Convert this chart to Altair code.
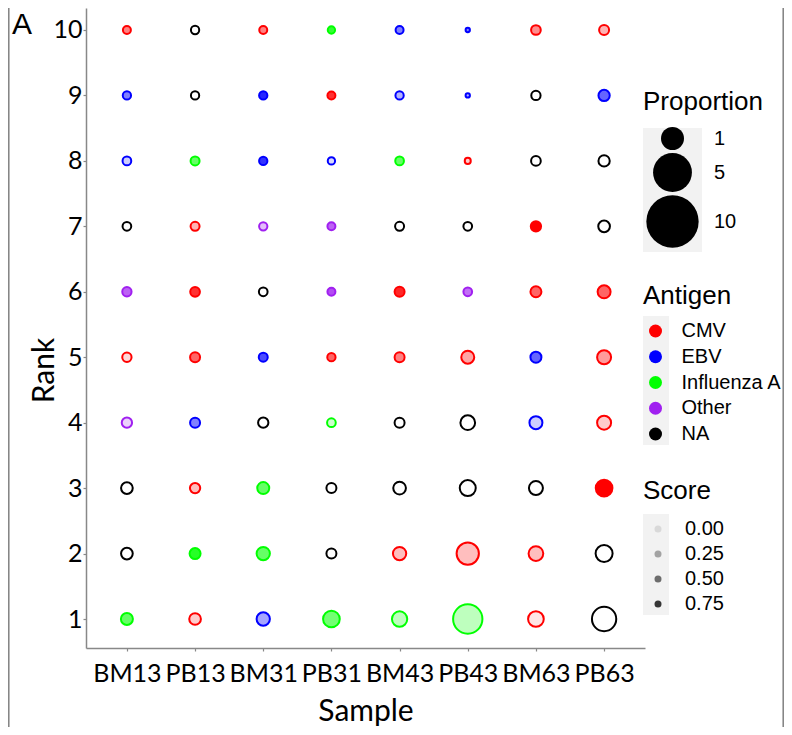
import altair as alt
import pandas as pd

samples = ["BM13", "PB13", "BM31", "PB31", "BM43", "PB43", "BM63", "PB63"]
ranks = [1, 2, 3, 4, 5, 6, 7, 8, 9, 10]
antigens = ["CMV", "EBV", "Influenza A", "Other", "NA"]
antigen_colors = ["#FF0000", "#0000FF", "#00FF00", "#A020F0", "#000000"]

C, E, F, O, N = "CMV", "EBV", "Influenza A", "Other", "NA"

# antigen per rank (1..10) for each sample
antigen_BM13 = [F, N, N, O, C, O, N, E, E, C]
antigen_PB13 = [C, F, C, E, C, C, C, F, N, N]
antigen_BM31 = [E, F, F, N, E, N, O, E, E, C]
antigen_PB31 = [F, N, N, F, C, O, O, E, C, F]
antigen_BM43 = [F, C, N, N, C, C, N, F, E, E]
antigen_PB43 = [F, C, N, N, C, O, N, C, E, E]
antigen_BM63 = [C, C, N, E, E, C, C, N, N, C]
antigen_PB63 = [N, N, C, C, C, C, N, N, E, C]

# proportion per rank (1..10)
prop_BM13 = [2.26, 2.15, 2.15, 1.67, 1.36, 1.36, 1.19, 1.19, 1.08, 1.00]
prop_PB13 = [2.15, 1.90, 1.67, 1.57, 1.57, 1.48, 1.27, 1.27, 1.08, 1.08]
prop_BM31 = [2.78, 2.78, 2.26, 1.67, 1.27, 1.19, 1.08, 1.08, 1.08, 1.00]
prop_PB31 = [4.38, 1.57, 1.57, 1.19, 1.08, 1.00, 1.00, 0.84, 1.00, 0.84]
prop_BM43 = [3.68, 2.78, 2.53, 1.57, 1.57, 1.57, 1.27, 1.19, 1.08, 1.00]
prop_PB43 = [13.5, 7.80, 4.02, 3.39, 2.65, 1.19, 1.19, 0.57, 0.29, 0.29]
prop_BM63 = [3.87, 3.39, 3.08, 2.65, 1.90, 1.90, 1.67, 1.48, 1.36, 1.48]
prop_PB63 = [9.27, 4.54, 4.38, 3.08, 3.08, 2.65, 2.15, 2.00, 2.00, 1.57]

# score per rank (1..10)
score_BM13 = [0.56, 0, 0, 0.11, 0.06, 0.67, 0, 0.11, 0.44, 0.44]
score_PB13 = [0.11, 0.83, 0.17, 0.44, 0.56, 0.78, 0.22, 0.56, 0, 0]
score_BM31 = [0.28, 0.56, 0.56, 0, 0.67, 0, 0.22, 0.78, 0.83, 0.44]
score_PB31 = [0.50, 0, 0, 0.11, 0.56, 0.78, 0.67, 0.06, 0.78, 0.78]
score_BM43 = [0.17, 0.17, 0, 0, 0.44, 0.83, 0, 0.56, 0.22, 0.44]
score_PB43 = [0.17, 0.17, 0, 0, 0.28, 0.61, 0, 0.11, 0.22, 0.44]
score_BM63 = [0.00, 0.17, 0, 0.11, 0.56, 0.56, 1.00, 0, 0, 0.39]
score_PB63 = [0, 0, 1.00, 0.11, 0.33, 0.56, 0, 0, 0.56, 0.22]

proportion_legend_values = [1, 5, 10]
score_legend_values = [0.0, 0.25, 0.5, 0.75]

antigen_lists = [antigen_BM13, antigen_PB13, antigen_BM31, antigen_PB31,
                 antigen_BM43, antigen_PB43, antigen_BM63, antigen_PB63]
prop_lists = [prop_BM13, prop_PB13, prop_BM31, prop_PB31,
              prop_BM43, prop_PB43, prop_BM63, prop_PB63]
score_lists = [score_BM13, score_PB13, score_BM31, score_PB31,
               score_BM43, score_PB43, score_BM63, score_PB63]

rows = []
for s, al, pl, sl in zip(samples, antigen_lists, prop_lists, score_lists):
    for r, a, p, sc in zip(ranks, al, pl, sl):
        rows.append({"Sample": s, "Rank": r, "Antigen": a, "Proportion": p, "Score": sc})
df = pd.DataFrame(rows)

LEG_FONT = "Liberation Sans"
AX_FONT = "Lato"

x_enc = alt.X("Sample:N", sort=samples, title="Sample",
              scale=alt.Scale(padding=0.6),
              axis=alt.Axis(labelAngle=0, labelFontSize=25, labelFont=AX_FONT,
                            labelPadding=10, tickSize=3, titleFontSize=30,
                            titleFont=AX_FONT, titleFontWeight="normal",
                            titleBaseline="alphabetic", titleY=72))
y_enc = alt.Y("Rank:Q", title="Rank",
              scale=alt.Scale(domain=[0.557, 10.336], nice=False, zero=False),
              axis=alt.Axis(values=ranks, format="d", labelFontSize=25,
                            labelFont=AX_FONT, labelPadding=1, tickSize=3,
                            titleFontSize=30, titleFont=AX_FONT,
                            titleFontWeight="normal", titleBaseline="alphabetic",
                            titleX=-33, titleY=362, titleAngle=270))

color_scale = alt.Scale(domain=antigens, range=antigen_colors)

common_legend = dict(orient="none", titleFontSize=26, titleFont=LEG_FONT,
                     titleFontWeight="normal", titleColor="black", labelFontSize=20,
                     labelFont=LEG_FONT, labelColor="black", symbolType="circle",
                     symbolStrokeWidth=0, padding=0)

# gray key backgrounds of the legends
key_bg = pd.DataFrame({"x": [557, 557, 557], "x2": [616, 583, 583],
                       "y": [120, 308, 506], "y2": [244, 437, 607]})
key_boxes = alt.Chart(key_bg).mark_rect(color="#F2F2F2").encode(
    x=alt.X("x:Q", scale=None), x2="x2:Q", y=alt.Y("y:Q", scale=None), y2="y2:Q")

points = alt.Chart(df).mark_point(filled=True, strokeWidth=2, shape="circle", opacity=1).encode(
    x=x_enc,
    y=y_enc,
    size=alt.Size("Proportion:Q", scale=alt.Scale(domain=[0, 10], range=[0, 637], zero=True),
                  legend=None),
    stroke=alt.Stroke("Antigen:N", scale=color_scale, legend=None),
    fill=alt.condition(
        "datum.Antigen == 'NA'",
        alt.value("white"),
        alt.Fill("Antigen:N", scale=color_scale,
                 legend=alt.Legend(title="Antigen", legendX=557, legendY=275,
                                   symbolSize=169, symbolOffset=2.5, labelOffset=16,
                                   rowPadding=5.75, titlePadding=12, **common_legend))
    ),
    fillOpacity=alt.FillOpacity("Score:Q", scale=alt.Scale(domain=[0, 1], range=[0.1, 1]),
                                legend=None),
)

score_legend_layer = alt.Chart(df).transform_filter("datum.Rank > 100").mark_point(
    filled=True, color="black", shape="circle"
).encode(
    x=x_enc,
    y=y_enc,
    opacity=alt.Opacity("Score:Q", scale=alt.Scale(domain=[0, 1], range=[0.1, 1]),
                        legend=alt.Legend(title="Score", legendX=557, legendY=470,
                                          values=score_legend_values, format=".2f",
                                          symbolSize=49, symbolFillColor="black",
                                          symbolOffset=5, labelOffset=17, rowPadding=5,
                                          titlePadding=15, **common_legend)),
)

size_legend_layer = alt.Chart(df).transform_filter("datum.Rank > 100").mark_point(
    filled=True, color="black", shape="circle", opacity=1
).encode(
    x=x_enc,
    y=y_enc,
    size=alt.Size("Proportion:Q", scale=alt.Scale(domain=[1, 10], range=[529, 2735], zero=False),
                  legend=alt.Legend(title="Proportion", legendX=557, legendY=81,
                                    values=proportion_legend_values, symbolFillColor="black",
                                    symbolOffset=3, labelOffset=15, rowPadding=3,
                                    titlePadding=12, **common_legend)),
)

label_df = pd.DataFrame({"label": ["A"]})
panel_label = alt.Chart(label_df).mark_text(
    align="left", baseline="alphabetic", fontSize=30, font=LEG_FONT, color="black"
).encode(x=alt.value(-74), y=alt.value(25.5), text="label:N")

left_border = alt.Chart(label_df).mark_rule(color="#808080", strokeWidth=1.5).encode(
    x=alt.value(-77.2), y=alt.value(0), y2=alt.value(719))
right_border = alt.Chart(label_df).mark_rule(color="#808080", strokeWidth=1.5).encode(
    x=alt.value(697.2), y=alt.value(0), y2=alt.value(719))

chart = alt.layer(key_boxes, points, size_legend_layer, score_legend_layer, panel_label,
                  left_border, right_border).resolve_scale(
    size="independent", opacity="independent"
).resolve_legend(size="independent", opacity="independent").properties(
    width=559, height=640,
    padding={"left": 78, "top": 0, "right": 139, "bottom": 79},
    autosize=alt.AutoSizeParams(type="none"),
).configure_view(stroke=None).configure_axis(
    grid=False, domainColor="#888888", domainWidth=1.5, tickColor="#888888",
    tickWidth=1.2, labelColor="black", titleColor="black"
)

chart.save("out.html", embed_options={"renderer": "svg", "actions": False})
